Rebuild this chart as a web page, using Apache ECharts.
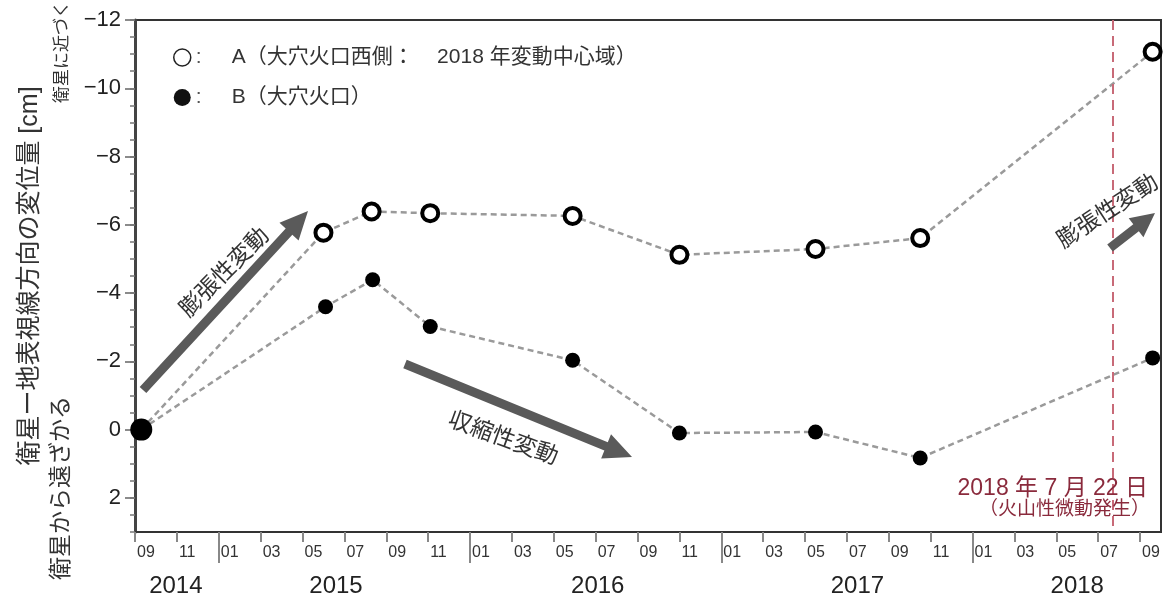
<!DOCTYPE html>
<html><head><meta charset="utf-8">
<script src="https://cdn.jsdelivr.net/npm/echarts@6/dist/echarts.min.js"></script>
<style>html,body{margin:0;padding:0;background:#fff}#c{width:1166px;height:602px}</style>
</head><body><div id="c"></div>
<script>
// months counted from 2014-09-01
const obsMonthsA = [0.3, 9.0, 11.3, 14.1, 20.9, 26.0, 32.5, 37.5, 48.6];
const valuesA    = [0, -5.77, -6.39, -6.34, -6.26, -5.12, -5.29, -5.61, -11.07];
const obsMonthsB = [0.3, 9.1, 11.35, 14.1, 20.9, 26.0, 32.5, 37.5, 48.6];
const valuesB    = [0, -3.6, -4.39, -3.02, -2.03, 0.1, 0.07, 0.83, -2.1];
const monthTickValues = [0,2,4,6,8,10,12,14,16,18,20,22,24,26,28,30,32,34,36,38,40,42,44,46,48];
const monthTickLabels = ['09','11','01','03','05','07','09','11','01','03','05','07','09','11','01','03','05','07','09','11','01','03','05','07','09'];
const yearLabels = ['2014','2015','2016','2017','2018'];
const yearLabelPos = [1.95, 9.6, 22.1, 34.5, 45.0];
const yearStartTicks = [4, 16, 28, 40];
const eventMonth = 46.7; // 2018-07-22
const halfStepTicks = [];
for (let v = -12; v <= 3; v += 0.5) halfStepTicks.push(v);

const nameA = 'A（大穴火口西側：    2018 年変動中心域）';
const nameB = 'B（大穴火口）';
const FF = "'Liberation Sans', 'Noto Sans CJK JP', sans-serif";

function arrowPts(x1,y1,x2,y2,sw,hl,hw){
  const dx=x2-x1, dy=y2-y1, L=Math.hypot(dx,dy), ux=dx/L, uy=dy/L, nx=-uy, ny=ux;
  const bx=x2-ux*hl, by=y2-uy*hl;
  return [[x1+nx*sw/2,y1+ny*sw/2],[bx+nx*sw/2,by+ny*sw/2],[bx+nx*hw/2,by+ny*hw/2],[x2,y2],
          [bx-nx*hw/2,by-ny*hw/2],[bx-nx*sw/2,by-ny*sw/2],[x1-nx*sw/2,y1-ny*sw/2]];
}
function rtext(x,y,deg,text,size,color){
  return {type:'text', x:x, y:y, rotation:deg*Math.PI/180, z:50,
    style:{text:text, fill:color||'#333', font: size+'px '+FF, align:'center', verticalAlign:'middle'}};
}

const chart = echarts.init(document.getElementById('c'));
const dataA = obsMonthsA.map((m,i)=> i===0 ? {value:[m,valuesA[i]], itemStyle:{color:'#000'}} : [m,valuesA[i]]);
const dataB = obsMonthsB.map((m,i)=> i===0 ? {value:[m,valuesB[i]], symbolSize:22} : [m,valuesB[i]]);

chart.setOption({
  animation:false,
  backgroundColor:'#fff',
  textStyle:{fontFamily:FF},
  grid:{left:135, right:5, top:20, bottom:70, show:true, borderColor:'#333', borderWidth:2, backgroundColor:'transparent'},
  legend:{
    left:168, top:42, orient:'vertical', itemGap:19, itemWidth:17, itemHeight:17,
    data:[
      {name:nameA, icon:'circle', itemStyle:{color:'#fff', borderColor:'#222', borderWidth:1.5}},
      {name:nameB, icon:'circle', itemStyle:{color:'#111', borderWidth:0}}
    ],
    formatter: n => '{c|:}' + n,
    textStyle:{fontSize:21, color:'#333', fontFamily:FF, rich:{c:{width:36, fontSize:21, color:'#555'}}}
  },
  xAxis:[
    {type:'value', min:0, max:49, gridIndex:0, position:'bottom',
     axisLine:{show:true, onZero:false, lineStyle:{color:'#333', width:2}},
     axisTick:{show:true, customValues:monthTickValues, length:10, lineStyle:{color:'#888', width:2}},
     axisLabel:{customValues:monthTickValues, formatter:v=>monthTickLabels[monthTickValues.indexOf(v)] || '',
       align:'left', margin:13, fontSize:16, color:'#333', fontFamily:FF, padding:[0,0,0,2]},
     splitLine:{show:false}},
    {type:'value', min:0, max:49, gridIndex:0, position:'bottom',
     axisLine:{show:false, onZero:false},
     axisTick:{show:true, customValues:yearStartTicks, length:31, lineStyle:{color:'#888', width:2}},
     axisLabel:{customValues:yearLabelPos, formatter:v=>{
        let best=0; yearLabelPos.forEach((p,i)=>{ if(Math.abs(p-v)<Math.abs(yearLabelPos[best]-v)) best=i; });
        return yearLabels[best]; },
       margin:42, fontSize:24, color:'#222', fontFamily:FF},
     splitLine:{show:false}}
  ],
  yAxis:[
    {type:'value', inverse:true, min:-12, max:3, interval:2, position:'left',
     name:'衛星ー地表視線方向の変位量 [cm]', nameLocation:'middle', nameRotate:90, nameGap:92,
     nameTextStyle:{fontSize:25, color:'#333', fontFamily:FF},
     axisLine:{show:true, onZero:false, lineStyle:{color:'#444', width:3}},
     axisTick:{show:true, length:10, lineStyle:{color:'#666', width:1.5}},
     axisLabel:{showMaxLabel:false, margin:14, fontSize:22, color:'#222', fontFamily:FF,
       formatter:v=> v<0 ? '\u2212'+(-v) : String(v)},
     splitLine:{show:false}},
    {type:'value', inverse:true, min:-12, max:3, position:'left', offset:0,
     axisLine:{show:false, onZero:false},
     axisTick:{show:true, customValues:halfStepTicks, length:5, lineStyle:{color:'#777', width:1.5}},
     axisLabel:{show:false}, splitLine:{show:false}}
  ],
  series:[
    {name:nameA, type:'line', xAxisIndex:0, yAxisIndex:0, data:dataA, z:3,
     symbol:'circle', symbolSize:16,
     itemStyle:{color:'#fff', borderColor:'#000', borderWidth:4},
     lineStyle:{color:'#9a9a9a', width:2.5, type:[6,4]}},
    {name:nameB, type:'line', xAxisIndex:0, yAxisIndex:0, data:dataB, z:4,
     symbol:'circle', symbolSize:15,
     itemStyle:{color:'#000', borderWidth:0},
     lineStyle:{color:'#9a9a9a', width:2.5, type:[6,4]},
     markLine:{silent:true, symbol:['none','none'], label:{show:false},
       lineStyle:{color:'#c86a78', width:2, type:[10,6]},
       data:[{xAxis:eventMonth}]}}
  ],
  graphic:[
    {type:'polygon', z:40, shape:{points:arrowPts(143,390,308,211,9,28,26)}, style:{fill:'#5a5a5a'}},
    {type:'polygon', z:40, shape:{points:arrowPts(405,364,632,457,9,28,26)}, style:{fill:'#5a5a5a'}},
    {type:'polygon', z:40, shape:{points:arrowPts(1110,248,1155,213,9,24,24)}, style:{fill:'#5a5a5a'}},
    rtext(225,273,45,'膨張性変動',23),
    rtext(503,439,-20,'収縮性変動',23),
    rtext(1108,212,33,'膨張性変動',23),
    rtext(62,52,90,'衛星に近づく',17),
    rtext(62,488,90,'衛星から遠ざかる',23),
    {type:'text', x:1148, y:489, z:50, style:{text:'2018 年 7 月 22 日', fill:'#8a2a3c', font:'23px '+FF, align:'right', verticalAlign:'middle'}},
    {type:'text', x:1150, y:510, z:50, style:{text:'（火山性微動発生）', fill:'#8a2a3c', font:'19px '+FF, align:'right', verticalAlign:'middle'}}
  ]
});
</script></body></html>
